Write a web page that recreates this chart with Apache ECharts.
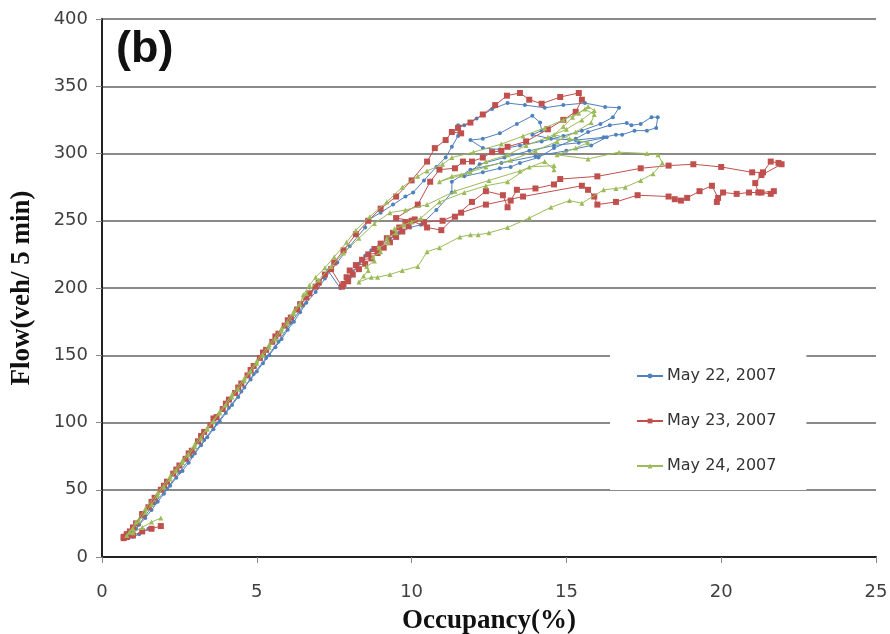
<!DOCTYPE html>
<html>
<head>
<meta charset="utf-8">
<script src="https://cdn.jsdelivr.net/npm/echarts@6/dist/echarts.min.js"></script>
<style>html,body{margin:0;padding:0;background:#fff;}#c{width:890px;height:634px;}</style>
</head>
<body>
<div id="c"></div>
<script>
const seriesNames = ['May 22, 2007', 'May 23, 2007', 'May 24, 2007'];
const xTicks = [0, 5, 10, 15, 20, 25];
const yTicks = [0, 50, 100, 150, 200, 250, 300, 350, 400];

// [occupancy %, flow veh/5min]
const may22 = [
[1.5,21],[1.2,17],[1.0,15],[0.85,14],[1.0,18],[1.2,24],[1.4,29],[1.6,35],[1.8,41],[2.0,47],[2.2,53],[2.4,59],[2.6,64],[2.8,70],[3.0,77],[3.2,83],[3.4,89],[3.6,95],[3.8,101],[4.0,107],[4.2,113],[4.4,119],[4.6,126],[4.8,132],[5.0,138],[5.2,144],[5.4,150],[5.6,156],[5.8,162],[6.0,169],[6.2,175],[6.4,182],[6.6,189],[6.9,197],[7.2,207],[7.6,219],[8.0,231],[8.5,245],[8.55,250],[9.0,256],[9.4,262],[9.8,268],[10.05,271],[10.4,280],[10.8,290],[11.1,297],[11.3,305],[11.5,313],[11.5,321],[11.7,321],[12.1,326],[12.6,333],[13.1,337.5],[13.66,336],[14.3,334],[14.9,336],[15.6,337.5],[16.25,334.6],[16.7,334],[16.5,327],[16.1,322],[15.5,317],[14.9,313],[14.2,309],[13.5,306],[12.85,303],[12.3,304],[11.9,310],[12.3,311],[12.85,315],[13.4,322],[13.9,328],[14.15,323],[14.2,317],[13.9,314],[14.5,311],[15.3,310],[16.2,312],[16.6,314],[16.8,314],[17.2,317],[17.6,317],[17.9,319],[17.95,327],[17.75,327],[17.4,322],[17.1,321],[16.95,322.7],[16.4,321],[15.7,316],[15.3,311],[14.6,304],[14.1,297],[13.5,293],[13.2,290],[12.85,289],[12.3,286],[11.7,283],[12.2,292],[13.0,297],[13.8,302],[14.6,306],[15.4,308],[16.3,312],[15.8,306],[15.0,302],[14.0,298],[12.9,293],[11.9,288],[11.3,279],[11.3,271],[10.8,258],[10.3,247],[9.95,245],[9.6,241],[9.3,237],[9.0,233],[8.7,228],[8.5,224],[8.3,218],[8.1,212],[8.0,208],[7.85,204],[7.69,200],[7.3,213],[6.9,201],[6.5,187],[6.1,174],[5.7,160],[5.3,148],[4.9,136],[4.5,123],[4.1,111],[3.7,99],[3.3,87],[2.9,75],[2.5,63],[2.1,51],[1.7,40],[1.4,31],[1.1,21],[0.9,16]
];
const may23 = [
[1.9,23],[1.6,21],[1.3,19],[1.0,16],[0.8,15],[0.7,14],[0.75,15],[0.9,19],[1.1,25],[1.3,31],[1.5,37],[1.7,44],[1.9,50],[2.1,56],[2.3,62],[2.5,68],[2.7,73],[2.9,79],[3.1,86],[3.3,93],[3.5,98],[3.7,104],[3.9,110],[4.1,117],[4.3,122],[4.5,129],[4.7,135],[4.9,142],[5.1,148],[5.3,154],[5.5,160],[5.7,166],[5.9,172],[6.1,178],[6.3,184],[6.6,193],[6.9,201],[7.2,210],[7.5,219],[7.8,228],[8.2,240],[8.6,250],[9.0,259],[9.5,268],[10.0,280],[10.5,294],[10.75,304],[11.1,310],[11.3,316],[11.6,315],[11.5,319],[11.9,323],[12.3,329],[12.7,336],[13.08,343],[13.5,345],[13.8,340],[14.2,337],[14.8,342],[15.4,345],[15.5,340],[15.3,331],[14.9,325],[14.4,318],[13.7,309],[13.1,305],[12.9,302],[12.6,301],[12.3,297],[11.95,294],[11.66,294],[11.4,289],[10.9,288],[10.6,279],[10.2,262],[9.5,252],[10.0,250],[10.5,245],[10.96,243],[11.4,253],[11.95,264],[12.4,272],[12.95,269],[13.1,260],[13.2,265],[13.4,273],[14.0,274],[14.6,277],[14.8,281],[16.0,283],[17.4,289],[18.3,291],[19.1,292],[20.0,290],[21.0,286],[21.35,286],[21.6,294],[21.85,293],[21.95,292],[21.3,284],[21.1,278],[21.2,271],[21.6,270],[21.7,272],[21.3,271],[20.9,271],[20.5,270],[20.06,271],[19.86,264],[19.9,267],[19.7,276],[19.3,272],[18.9,267],[18.7,265],[18.5,266],[18.3,268],[17.3,269],[16.6,264],[16.0,262],[15.9,268],[15.7,273],[15.5,276],[13.6,268],[12.4,262],[11.6,256],[11.0,250],[10.4,249],[10.1,251],[9.8,249],[9.9,246],[9.6,245],[9.7,242],[9.4,241],[9.5,238],[9.2,237],[9.3,234],[9.0,233],[9.1,230],[8.8,229],[8.9,226],[8.6,225],[8.7,222],[8.4,221],[8.5,218],[8.2,217],[8.3,214],[8.0,213],[8.1,210],[7.9,208],[7.95,205],[7.8,203],[7.75,201],[7.4,214],[7.0,204],[6.7,196],[6.4,188],[6.0,176],[5.6,164],[5.2,152],[4.8,139],[4.4,126],[4.0,114],[3.6,103],[3.2,90],[2.8,77],[2.4,65],[2.0,53],[1.6,41],[1.3,32],[1.0,22],[0.8,17],[0.7,15]
];
const may24 = [
[1.9,29],[1.6,26],[1.3,22],[1.0,18],[0.8,16],[1.0,21],[1.2,27],[1.4,33],[1.6,39],[1.8,46],[2.0,52],[2.2,58],[2.4,64],[2.6,70],[2.8,76],[3.0,82],[3.2,88],[3.4,95],[3.6,101],[3.8,107],[4.0,113],[4.2,119],[4.4,125],[4.6,131],[4.8,138],[5.0,144],[5.2,150],[5.4,156],[5.6,162],[5.8,168],[6.0,174],[6.2,181],[6.4,188],[6.5,195],[6.7,202],[6.9,208],[7.2,215],[7.5,223],[7.9,234],[8.2,243],[8.65,253],[9.2,264],[9.7,275],[10.2,283],[10.5,287],[11.0,292],[11.3,297],[12.0,301],[12.9,307],[13.6,313],[14.3,319],[14.9,325],[15.4,330],[15.7,335],[15.9,332],[15.5,325],[15.0,318],[14.4,312],[13.7,306],[13.1,299],[12.4,294],[11.9,286],[11.3,283],[10.9,279],[11.6,284],[12.4,290],[13.2,295],[14.0,302],[14.7,309],[15.3,316],[15.8,323],[15.9,329],[15.6,333],[15.2,327],[14.9,320],[14.6,314],[15.1,311],[15.7,308],[15.3,304],[14.7,299],[15.7,296],[16.7,301],[17.6,300],[17.96,299],[18.1,293],[17.8,285],[17.4,280],[16.9,275],[16.6,274],[16.2,273],[15.5,263],[15.1,265],[14.5,260],[13.8,252],[13.1,245],[12.5,241],[12.15,239.5],[11.9,239.5],[11.56,238],[10.9,230],[10.5,227],[10.2,216],[9.7,213],[9.3,210],[8.9,208],[8.7,208],[8.3,204.5],[8.45,209],[8.6,213],[8.55,216],[8.8,220],[8.75,223],[9.0,227],[8.95,230],[9.25,234],[9.2,237],[9.5,241],[9.45,244],[9.75,247],[10.0,249],[10.3,252],[10.9,264],[11.7,271],[12.4,276],[13.1,279],[13.8,290],[14.6,291],[14.6,288],[14.3,294],[13.5,287],[12.5,280],[11.4,272],[10.5,262],[9.8,258],[9.3,256],[8.8,248],[8.3,237],[7.8,226],[7.4,216],[7.0,206],[6.6,196],[6.2,183],[5.8,170],[5.4,158],[5.0,146],[4.6,133],[4.2,121],[3.8,108],[3.4,96],[3.0,84],[2.6,72],[2.2,60],[1.8,48],[1.4,36],[1.1,26],[0.9,19]
];

const colors = ['#4F81BD', '#C0504D', '#9BBB59'];
const symbols = ['circle', 'rect', 'triangle'];
const sizes = [4, 6, 5];
const datasets = [may22, may23, may24];

const chart = echarts.init(document.getElementById('c'), null, {renderer: 'canvas'});
chart.setOption({
  animation: false,
  backgroundColor: '#ffffff',
  grid: {left: 102, right: 14, top: 19, bottom: 77, containLabel: false, outerBoundsMode: 'none'},
  graphic: [{
    type: 'text', left: 116, top: 27,
    style: {text: '(b)', font: 'bold 45px "Liberation Sans"', fill: '#111'}
  }],
  xAxis: {
    type: 'value', min: xTicks[0], max: xTicks[xTicks.length - 1], interval: 5,
    name: 'Occupancy(%)', nameLocation: 'middle', nameGap: 51,
    nameTextStyle: {fontFamily: 'Liberation Serif', fontWeight: 'bold', fontSize: 27, color: '#111'},
    axisLine: {lineStyle: {color: '#222', width: 2}},
    axisTick: {show: true, length: 6, lineStyle: {color: '#888', width: 1}},
    axisLabel: {margin: 26, fontFamily: 'DejaVu Sans', fontSize: 18, color: '#404040'},
    splitLine: {show: false}
  },
  yAxis: {
    type: 'value', min: yTicks[0], max: yTicks[yTicks.length - 1], interval: 50,
    name: 'Flow(veh/ 5 min)', nameLocation: 'middle', nameGap: 66,
    nameTextStyle: {fontFamily: 'Liberation Serif', fontWeight: 'bold', fontSize: 27, color: '#111'},
    axisLine: {show: true, lineStyle: {color: '#222', width: 2}},
    axisTick: {show: true, length: 6, lineStyle: {color: '#888', width: 1}},
    axisLabel: {margin: 14, fontFamily: 'DejaVu Sans', fontSize: 18, color: '#404040'},
    splitLine: {show: true, lineStyle: {color: '#8a8a8a', width: 2}}
  },
  legend: {
    orient: 'vertical', left: 610, top: 352,
    backgroundColor: '#ffffff',
    padding: [16, 30, 16, 26],
    itemGap: 29, itemWidth: 26, itemHeight: 6,
    textStyle: {fontFamily: 'DejaVu Sans', fontSize: 16, color: '#333', padding: [0, 0, 0, -1]},
    data: seriesNames
  },
  series: datasets.map((d, i) => ({
    name: seriesNames[i],
    type: 'line',
    data: d,
    symbol: symbols[i],
    symbolSize: sizes[i],
    showSymbol: true,
    showAllSymbol: true,
    lineStyle: {color: colors[i], width: 1},
    itemStyle: {color: colors[i]},
    z: 2 + i
  }))
});
</script>
</body>
</html>
